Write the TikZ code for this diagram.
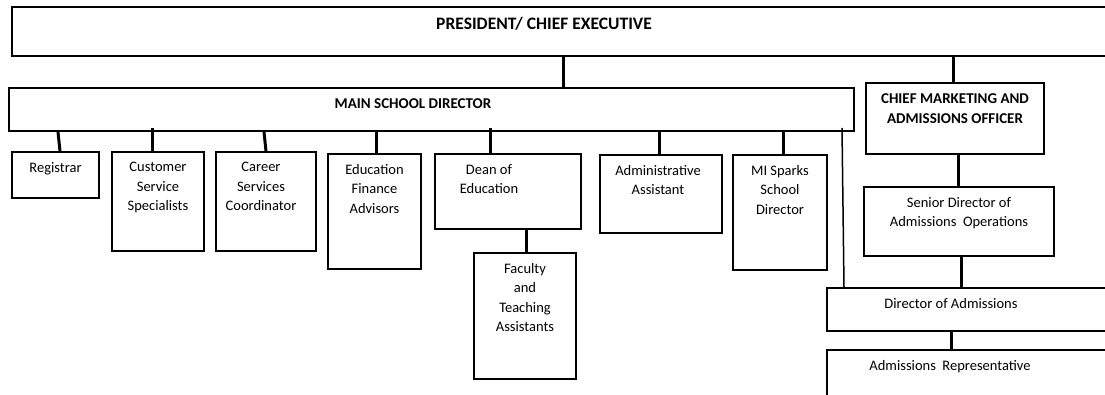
\documentclass[tikz,border=0pt]{standalone}
\usepackage{fontspec}
\setmainfont{Carlito}
\usetikzlibrary{calc}

\begin{document}
\begin{tikzpicture}[x=1pt,y=-1pt,
		unit/.style={draw,line width=2pt,rectangle,inner sep=0pt},
		lbl/.style={anchor=north,align=center,inner xsep=2pt,inner ysep=11pt,font=\fontsize{14.5}{19.5}\selectfont},
		head/.style={lbl,font=\fontsize{15}{20}\selectfont\bfseries},
		link/.style={line width=3pt},
		thinlink/.style={line width=1.5pt}]
			\useasboundingbox (0,0) rectangle (1105,395);
			\clip (0,0) rectangle (1105,395);
			% top level
			\node[unit,minimum width=1113,minimum height=49,label={[head,font=\fontsize{17.5}{21}\selectfont\bfseries,xshift=-24.5pt]north:PRESIDENT/ CHIEF EXECUTIVE}] (pres) at (568.5,31.5) {};
			\node[unit,minimum width=845,minimum height=43,label={[head,xshift=-18.5pt]north:MAIN SCHOOL DIRECTOR}] (main) at (431.5,109.5) {};
			\node[unit,minimum width=178,minimum height=71,label={[head]north:{CHIEF MARKETING AND\\ADMISSIONS OFFICER}}] (cmo) at (955,118.5) {};
			% admissions branch
			\node[unit,minimum width=190,minimum height=69,label={[lbl]north:{Senior Director of\\Admissions\ \ Operations}}] (sdo) at (959,221.5) {};
			\node[unit,minimum width=298,minimum height=43,label={[lbl,xshift=-25pt]north:Director of Admissions}] (doa) at (976,309.5) {};
			\node[unit,minimum width=298,minimum height=60,label={[lbl,xshift=-26pt]north:Admissions\ \ Representative}] (rep) at (976,380) {};
			% school branch
			\node[unit,minimum width=87,minimum height=46,label={[lbl]north:Registrar}] (reg) at (55.5,175) {};
			\node[unit,minimum width=92,minimum height=99,label={[lbl]north:{Customer\\Service\\Specialists}}] (csv) at (158,201.5) {};
			\node[unit,minimum width=100,minimum height=99,label={[lbl,xshift=-5pt]north:{Career\\Services\\Coordinator}}] (car) at (266,201.5) {};
			\node[unit,minimum width=93,minimum height=115,label={[lbl]north:{Education\\Finance\\Advisors}}] (efa) at (374.5,211.5) {};
			\node[unit,minimum width=146,minimum height=75,label={[lbl,xshift=-19pt]north:{Dean of\\Education}}] (dean) at (508,191.5) {};
			\node[unit,minimum width=102,minimum height=126,label={[lbl]north:{Faculty\\and\\Teaching\\Assistants}}] (fac) at (525,316) {};
			\node[unit,minimum width=122,minimum height=78,label={[lbl,xshift=-3pt]north:{Administrative\\Assistant}}] (adm) at (661,194) {};
			\node[unit,minimum width=94,minimum height=115,label={[lbl]north:{MI Sparks\\School\\Director}}] (mis) at (780,212.5) {};
			% connectors
			\draw[link] ([xshift=131.5pt]main.north) -- ([xshift=131.5pt]main.north |- pres.south);
			\draw[link] ([xshift=-2pt]cmo.north) -- ([xshift=-2pt]cmo.north |- pres.south);
			\draw[link] ([xshift=-1pt]sdo.north) -- ([xshift=-1pt]sdo.north |- cmo.south);
			\draw[link] ([xshift=2pt]sdo.south) -- ([xshift=2pt]sdo.south |- doa.north);
			\draw[link] ([xshift=-25pt]rep.north) -- ([xshift=-25pt]rep.north |- doa.south);
			\draw[link] ([xshift=1pt]fac.north) -- ([xshift=1pt]fac.north |- dean.south);
			\draw[link] ([xshift=4.5pt]reg.north) -- ([xshift=2.5pt]reg.north |- main.south);
			\draw[link] ([xshift=0pt]car.north) -- ([xshift=-2pt]car.north |- main.south);
			\foreach \n/\dx/\dy in {csv/-6/4,efa/1.5/0,dean/-18/4,adm/-2/0,mis/3/0}{
					\draw[link] ([xshift=\dx pt]\n.north) -- ([xshift=\dx pt,yshift=\dy pt]\n.north |- main.south);
				}
			\draw[thinlink] ([xshift=18pt]doa.north west) -- ([xshift=16pt,yshift=4pt]doa.north west |- main.south);
		\end{tikzpicture}
\end{document}
